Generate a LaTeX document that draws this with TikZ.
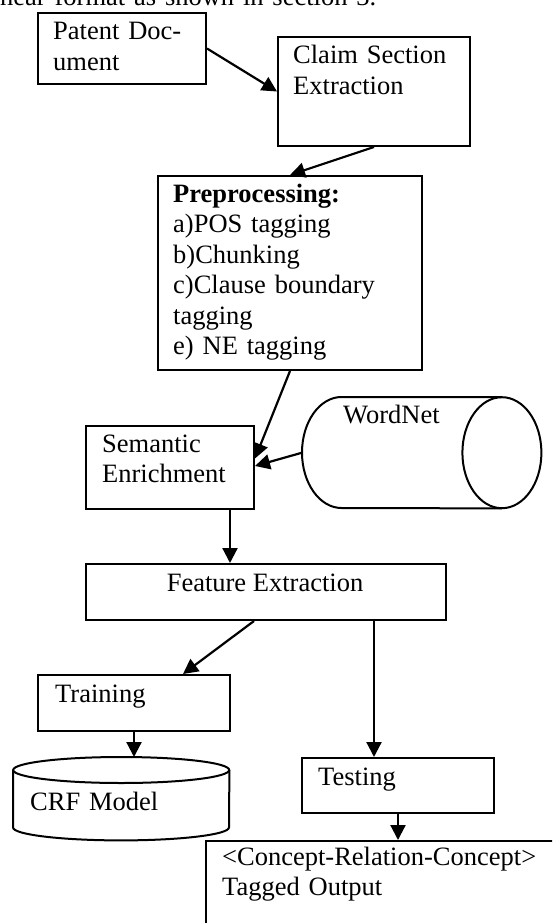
\documentclass[tikz,border=0pt]{standalone}
\usepackage{fontspec}
\setmainfont{Liberation Serif}
\usetikzlibrary{arrows.meta}

\tikzset{
  box/.style={draw, line width=2pt, anchor=north west, inner sep=0pt},
  store/.style={anchor=north west, inner sep=0pt},
  lbl/.style={anchor=base west, inner sep=0pt, text width=#1, align=left},
  flow/.style={line width=2.2pt, -{Triangle[length=15pt,width=15pt]}},
}

\begin{document}
\begin{tikzpicture}[x=1pt,y=1pt,font=\fontsize{26.5}{30.5}\selectfont]
\useasboundingbox (0,0) rectangle (552,-923);
\clip (0,0) rectangle (552,-923);

\node[lbl=540pt] (intro) at (0,-6) {near format as shown in section 3.};

% boxes
\node[box, minimum width=168pt, minimum height=71pt] (patent) at (37,-12) {};
\node[lbl=150pt] (patenttxt) at (53,-40) {Patent Doc-\\ument};

\node[box, minimum width=192pt, minimum height=109pt] (claim) at (277,-36) {};
\node[lbl=170pt] (claimtxt) at (293,-64) {Claim Section\\Extraction};

\node[box, minimum width=264pt, minimum height=194pt] (prep) at (157,-175) {};
\node[lbl=245pt] (preptxt) at (173,-202) {\textbf{Preprocessing:}\\a)POS tagging\\b)Chunking\\c)Clause boundary\\tagging\\e) NE tagging};

\node[box, minimum width=168pt, minimum height=83pt] (sem) at (85,-425) {};
\node[lbl=150pt] (semtxt) at (102,-452) {Semantic\\Enrichment};

\node[store, minimum width=239pt, minimum height=111pt] (wordnet) at (302,-397) {};
\node[lbl=150pt] (wordnettxt) at (343,-423) {WordNet};

\node[box, minimum width=360pt, minimum height=56pt] (feat) at (85,-563) {};
\node[anchor=base, inner sep=0pt] (feattxt) at (265,-591) {Feature Extraction};

\node[box, minimum width=192pt, minimum height=56pt] (train) at (37,-674) {};
\node[lbl=170pt] (traintxt) at (55,-702) {Training};

\node[store, minimum width=216pt, minimum height=83pt] (crf) at (13,-757) {};
\node[lbl=190pt] (crftxt) at (30,-810) {CRF Model};

\node[box, minimum width=192pt, minimum height=55pt] (test) at (301,-757) {};
\node[lbl=170pt] (testtxt) at (318,-785) {Testing};

\node[box, minimum width=370pt, minimum height=110pt] (output) at (205,-840) {};
\node[lbl=330pt] (outputtxt) at (222,-865) {<Concept-Relation-Concept>\\Tagged Output};

% the two data stores
\draw[line width=2pt] ([xshift=39.5pt]wordnet.north west) -- ([xshift=-39.5pt]wordnet.north east)
  ([xshift=39.5pt]wordnet.north west) arc[start angle=90, end angle=270, x radius=39.5pt, y radius=55.5pt]
  -- ([xshift=-39.5pt]wordnet.south east);
\draw[line width=2pt] ([xshift=-39.5pt]wordnet.east) ellipse[x radius=39.5pt, y radius=55.5pt];

\draw[line width=2pt] ([yshift=-13pt]crf.north west) -- ([yshift=13pt]crf.south west)
  arc[start angle=180, end angle=360, x radius=108pt, y radius=13pt] -- ([yshift=-13pt]crf.north east);
\draw[line width=2pt] ([yshift=-13pt]crf.north) ellipse[x radius=108pt, y radius=13pt];

% arrows
\path[draw,flow] (patent.east) -- (claim.west);
\path[draw,flow] (claim.south) -- (prep.north);
\path[draw,flow] (prep.south) -- ([yshift=9pt]sem.east);
\path[draw,flow] (wordnet.west) -- ([yshift=1.5pt]sem.east);
\path[draw,flow] ([xshift=60pt]sem.south) -- ([xshift=-36pt]feat.north);
\path[draw,flow] ([xshift=-12pt]feat.south) -- ([xshift=49pt]train.north);
\path[draw,flow] (train.south) -- (train.south |- crf.north);
\path[draw,flow] ([xshift=108pt]feat.south) -- ([xshift=-24pt]test.north);
\path[draw,flow] (test.south) -- (test.south |- output.north);
\end{tikzpicture}
\end{document}
